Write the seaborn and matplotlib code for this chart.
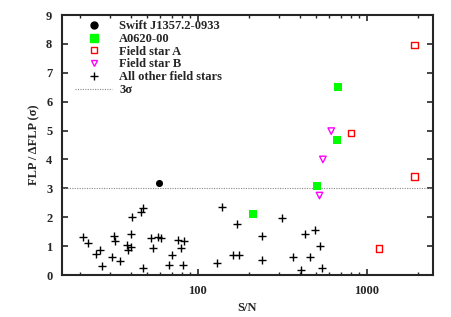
import matplotlib
matplotlib.use("Agg")
import matplotlib.pyplot as plt
import seaborn as sns
import pandas as pd
from matplotlib.lines import Line2D
from matplotlib.ticker import LogLocator, NullFormatter, FixedLocator

# ---- data ----
swift_sn = [58.8]
swift_flp = [3.2]

a0620_sn = [212, 508, 661, 672]
a0620_flp = [2.11, 3.08, 4.66, 6.51]

starA_sn = [808, 1910, 1910, 1178]
starA_flp = [4.91, 7.96, 3.41, 0.92]

starB_sn = [615, 549, 524]
starB_flp = [4.98, 4.00, 2.75]

other_sn = [20.9, 22.4, 25.0, 26.2, 27.0, 31.0, 31.8, 32.3, 34.4, 38.2, 40.0, 38.4,
            40.0, 40.8, 46.2, 47.6, 47.5, 52.6, 54.0, 58.2, 60.1, 67.6, 70.7, 76.1,
            83.2, 79.3, 81.5, 128.9, 139.2, 161.8, 175.1, 169.7, 239.2, 239.2, 314,
            366.4, 406.8, 431.4, 457.5, 489.7, 527.1, 538.8]
other_flp = [1.31, 1.11, 0.72, 0.87, 0.30, 0.62, 1.34, 1.16, 0.49, 1.04, 0.97, 0.85,
             1.42, 2.00, 2.17, 2.33, 0.24, 1.28, 0.95, 1.33, 1.28, 0.36, 0.69, 1.22,
             1.19, 0.92, 0.35, 0.43, 2.34, 0.70, 0.70, 1.78, 1.34, 0.51, 1.99,
             0.61, 0.16, 1.43, 0.62, 1.55, 1.01, 0.24]

threshold = 3.0

labels = ["Swift J1357.2-0933", "A0620-00", "Field star A", "Field star B",
          "All other field stars", "3\u03c3"]

# ---- style ----
sns.set_style("ticks")
plt.rcParams["font.family"] = ["Liberation Serif", "DejaVu Serif"]
plt.rcParams["font.weight"] = "bold"

FS = 9

fig = plt.figure(figsize=(4.52, 3.17), dpi=100)
ax = fig.add_axes([62/452, 1 - 275/317, (433 - 62)/452, (275 - 15)/317])

ax.axhline(threshold, color="#888888", linestyle=(0, (1, 1.2)), linewidth=0.8, zorder=1)

sns.scatterplot(x=other_sn, y=other_flp, marker="+", s=34, color="black",
                linewidth=1.0, ax=ax, zorder=3)
sns.scatterplot(x=swift_sn, y=swift_flp, marker="o", s=26, color="black",
                edgecolor="black", linewidth=0, ax=ax, zorder=3)
sns.scatterplot(x=a0620_sn, y=a0620_flp, marker="s", s=32, color="#00ff00",
                edgecolor="#00ff00", linewidth=0, ax=ax, zorder=3)
sns.scatterplot(x=starA_sn, y=starA_flp, marker="s", s=20, facecolor="none",
                edgecolor="#ff0000", linewidth=1.0, ax=ax, zorder=3)
sns.scatterplot(x=starB_sn, y=starB_flp, marker="v", s=22, facecolor="none",
                edgecolor="#ff00ff", linewidth=1.0, ax=ax, zorder=3)

ax.set_xscale("log")
ax.set_xlim(15.7, 2460)
ax.set_ylim(0, 9)
ax.yaxis.set_major_locator(FixedLocator(range(0, 10)))
ax.xaxis.set_major_locator(FixedLocator([100, 1000]))
ax.xaxis.set_minor_locator(LogLocator(base=10, subs=range(2, 10)))
ax.xaxis.set_minor_formatter(NullFormatter())
ax.set_xticklabels(["100", "1000"])

ax.tick_params(which="both", direction="in", top=True, right=True,
               labelsize=FS, width=1.2, pad=7)
ax.tick_params(which="major", length=4)
ax.tick_params(which="minor", length=2.5, width=1.0)
for lab in ax.get_xticklabels() + ax.get_yticklabels():
    lab.set_fontweight("bold")
for sp in ax.spines.values():
    sp.set_linewidth(1.5)
    sp.set_visible(True)

ax.set_xlabel("S/N", fontsize=FS, fontweight="bold", labelpad=4)
ax.set_ylabel("FLP / \u0394FLP (\u03c3)", fontsize=FS, fontweight="bold", labelpad=4)

handles = [
    Line2D([], [], linestyle="none", marker="o", markersize=5, color="black"),
    Line2D([], [], linestyle="none", marker="s", markersize=5.5, color="#00ff00"),
    Line2D([], [], linestyle="none", marker="s", markersize=4.5, markerfacecolor="none",
           markeredgecolor="#ff0000", markeredgewidth=1.0),
    Line2D([], [], linestyle="none", marker="v", markersize=4.5, markerfacecolor="none",
           markeredgecolor="#ff00ff", markeredgewidth=1.0),
    Line2D([], [], linestyle="none", marker="+", markersize=5.5, color="black",
           markeredgewidth=1.0),
    Line2D([], [], linestyle=(0, (1, 1.2)), color="#888888", linewidth=0.8),
]
leg = ax.legend(handles, labels, loc="upper left", bbox_to_anchor=(0.035, 0.98),
                frameon=False, handlelength=3.0, handletextpad=0.55,
                labelspacing=0.06, borderpad=0, borderaxespad=0,
                prop={"weight": "bold", "size": FS})

fig.savefig("out.png", dpi=100)
